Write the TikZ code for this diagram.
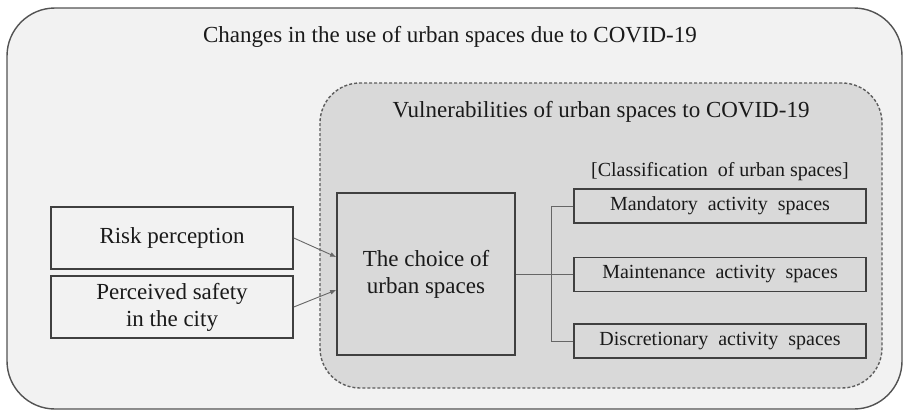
\documentclass[tikz,border=0pt]{standalone}
\usepackage{fontspec}
\setmainfont{Liberation Serif}
\usetikzlibrary{arrows.meta,calc}
\definecolor{outerfill}{HTML}{F2F2F2}
\definecolor{innerfill}{HTML}{D9D9D9}
\definecolor{edge}{HTML}{404040}
\definecolor{txt}{HTML}{1A1A1A}
\tikzset{
  bigtext/.style={font=\fontsize{23}{27}\selectfont, text=txt},
  smalltext/.style={font=\fontsize{20}{24}\selectfont, text=txt},
  leftbox/.style={draw=edge, line width=1.6pt, fill=outerfill, minimum width=242, minimum height=62, align=center, bigtext, inner sep=0pt},
  choicebox/.style={draw=edge, line width=1.6pt, fill=innerfill, minimum width=178, minimum height=162, align=center, bigtext, inner sep=0pt},
  classbox/.style={draw=edge, line width=1.6pt, fill=innerfill, minimum width=292, minimum height=34, smalltext, inner sep=0pt},
  conn/.style={draw=edge!80, line width=0.9pt},
  arr/.style={conn, -{Latex[length=6pt,width=5pt]}},
}
\begin{document}
\begin{tikzpicture}[x=1pt,y=-1pt]
\useasboundingbox (0,0) rectangle (904,410);
% outer frame
\node[draw=edge!90, line width=1.4pt, fill=outerfill, rounded corners=48pt,
  minimum width=895, minimum height=401, inner sep=0pt] (outer) at (454.5,208.5) {};
\node[bigtext] (title) at (450,37) {Changes in the use of urban spaces due to COVID-19};
% inner dashed frame
\node[draw=edge!85, line width=1.4pt, dash pattern=on 3pt off 2pt, fill=innerfill, rounded corners=40pt,
  minimum width=562, minimum height=305, inner sep=0pt] (inner) at (601,235.5) {};
\node[bigtext] (vtitle) at (601,112) {Vulnerabilities of urban spaces to COVID-19};
\node[smalltext] (ctitle) at (720,172) {[Classification\ \ of urban spaces]};
% left boxes
\node[leftbox] (risk) at (172,238) {Risk perception};
\node[leftbox] (safe) at (172,307) {Perceived safety\\in the city};
% choice
\node[choicebox] (choice) at (426,274) {The choice of\\urban spaces};
% classification boxes
\node[classbox] (mand) at (720,206) {Mandatory\ \ activity\ \ spaces};
\node[classbox] (maint) at (720,274.5) {Maintenance\ \ activity\ \ spaces};
\node[classbox] (disc) at (720,341) {Discretionary\ \ activity\ \ spaces};
% connectors
\draw[arr] (risk.east) -- ($(choice.west)+(0,-17)$);
\draw[arr] (safe.east) -- ($(choice.west)+(0,16)$);
\draw[conn] (choice.east) -- (choice.east -| maint.west);
\draw[conn] (mand.west) -- ++(-22,0) |- (disc.west);
\end{tikzpicture}
\end{document}
